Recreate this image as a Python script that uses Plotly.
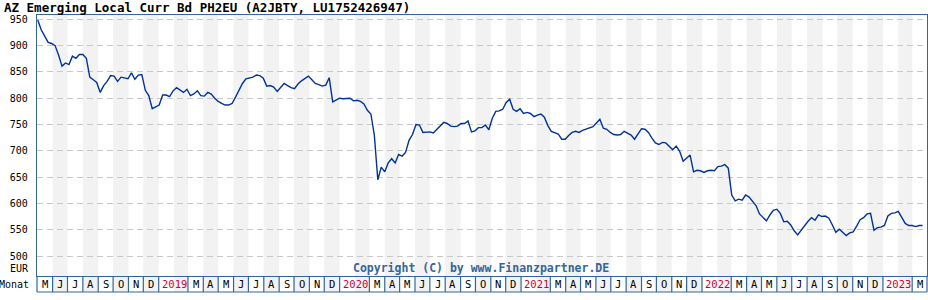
import plotly.graph_objects as go
import pandas as pd

TITLE = "AZ Emerging Local Curr Bd PH2EU (A2JBTY, LU1752426947)"
COPYRIGHT = "Copyright (C) by www.Finanzpartner.DE"
START_DATE = "2018-05-02"   # first weekly observation
STEP = "7D"

# weekly prices (EUR)
prices = [
    948.7, 930, 918, 906, 904, 900, 882, 861, 867, 864,
    880, 876, 883, 883, 876, 840, 835, 830, 811, 824,
    832, 843, 842, 832, 840, 838, 837, 848, 836, 844,
    845, 815, 805, 780, 784, 787, 806, 806, 803, 814,
    820, 816, 811, 817, 805, 808, 814, 805, 804, 811,
    808, 800, 794, 790, 787, 787, 790, 802, 815, 828,
    837, 839, 840, 844, 843, 838, 823, 824, 821, 813,
    820, 828, 824, 820, 818, 827, 833, 838, 842, 835,
    828, 826, 823, 825, 839, 793, 797, 800, 799, 800,
    800, 795, 796, 794, 789, 777, 770, 730, 645, 669,
    660, 677, 685, 677, 693, 690, 697, 720, 731, 750,
    749, 735, 736, 736, 734, 741, 747, 754, 752, 747,
    746, 747, 752, 752, 757, 736, 738, 744, 744, 749,
    740, 762, 775, 776, 779, 792, 798, 779, 775, 780,
    771, 773, 771, 765, 768, 770, 764, 748, 737, 734,
    732, 722, 722, 729, 735, 737, 735, 739, 741, 744,
    746, 753, 760, 743, 741, 735, 731, 730, 731, 737,
    734, 730, 722, 731, 742, 741, 735, 724, 715, 712,
    716, 715, 708, 702, 709, 699, 680, 687, 692, 660,
    663, 662, 659, 662, 663, 662, 670, 671, 674, 667,
    616, 605, 608, 606, 616, 612, 604, 596, 580, 573,
    567, 578, 587, 589, 581, 565, 566, 559, 548, 540,
    549, 558, 566, 573, 568, 578, 575, 576, 572, 559,
    545, 551, 544, 539, 544, 546, 557, 569, 573, 580,
    581, 549, 554, 555, 558, 576, 581, 582, 585, 574,
    562, 558, 558, 556, 558, 558,
]

y_ticks = [500, 550, 600, 650, 700, 750, 800, 850, 900, 950]
month_letters = ["J", "F", "M", "A", "M", "J", "J", "A", "S", "O", "N", "D"]
first_month = "2018-05-01"
last_month = "2023-03-01"
x_range = ["2018-04-30 12:00", "2023-03-30 22:00"]
y_range = [462, 958.2]

FONT = "DejaVu Sans Mono"
FRAME = "#336699"
LINE = "#003399"
BAND = "#f2f2f2"
YEAR_COLOR = "#cc0033"

W, H = 928, 300
ML, MR, MT, MB = 37, 1, 15, 24
plot_h = H - MT - MB
plot_w = W - ML - MR
ROW_H = 16 / plot_h

dates = pd.date_range(START_DATE, periods=len(prices), freq=STEP)
months = pd.date_range(first_month, last_month, freq="MS")
month_ends = list(months[1:]) + [months[-1] + pd.offsets.MonthBegin(1)]

fig = go.Figure()
fig.add_trace(go.Scatter(
    x=dates, y=prices, mode="lines",
    line=dict(color=LINE, width=1.4),
    hoverinfo="skip", showlegend=False,
))

shapes = []
annotations = []

# alternating month bands (plot area + month row)
for m0, m1 in zip(months, month_ends):
    if m0.month % 2 == 0:
        shapes.append(dict(type="rect", xref="x", yref="paper",
                           x0=m0, x1=m1, y0=-ROW_H, y1=1,
                           fillcolor=BAND, line=dict(width=0), layer="below"))

# month row frame
shapes.append(dict(type="line", xref="paper", yref="paper", x0=0, x1=1,
                   y0=-ROW_H, y1=-ROW_H, line=dict(color=FRAME, width=1.2)))
shapes.append(dict(type="line", xref="paper", yref="paper", x0=0, x1=0,
                   y0=-ROW_H, y1=0, line=dict(color=FRAME, width=1.2)))
shapes.append(dict(type="line", xref="paper", yref="paper", x0=1, x1=1,
                   y0=-ROW_H, y1=0, line=dict(color=FRAME, width=1.2)))
for m0 in months[1:]:
    if m0.month != 2:
        shapes.append(dict(type="line", xref="x", yref="paper", x0=m0, x1=m0,
                           y0=-ROW_H, y1=0, line=dict(color=FRAME, width=1.2)))

# month / year labels
label_y = -ROW_H / 2
for m0, m1 in zip(months, month_ends):
    if m0.month == 2:
        continue
    if m0.month == 1:
        xc = m0 + pd.Timedelta(days=31)
        annotations.append(dict(x=xc, y=label_y, xref="x", yref="paper",
                                text=str(m0.year), showarrow=False,
                                xanchor="center", yanchor="middle",
                                font=dict(family=FONT, size=10.5, color=YEAR_COLOR)))
    else:
        xc = m0 + (m1 - m0) / 2
        annotations.append(dict(x=xc, y=label_y, xref="x", yref="paper",
                                text=month_letters[m0.month - 1], showarrow=False,
                                xanchor="center", yanchor="middle",
                                font=dict(family=FONT, size=10.5, color="#000000")))

px_x = lambda px: (px - ML) / plot_w
px_y = lambda py: (H - MB - py) / plot_h

annotations.append(dict(x=px_x(2), y=px_y(8), xref="paper", yref="paper",
                        text="<b>" + TITLE + "</b>", showarrow=False,
                        xanchor="left", yanchor="middle",
                        font=dict(family=FONT, size=12.5, color="#000000")))
annotations.append(dict(x=px_x(31), y=px_y(268), xref="paper", yref="paper",
                        text="EUR", showarrow=False, xanchor="right", yanchor="middle",
                        font=dict(family=FONT, size=10, color="#000000")))
annotations.append(dict(x=px_x(31), y=px_y(284), xref="paper", yref="paper",
                        text="Monat", showarrow=False, xanchor="right", yanchor="middle",
                        font=dict(family=FONT, size=10, color="#000000")))
annotations.append(dict(x=px_x(481), y=px_y(268), xref="paper", yref="paper",
                        text="<b>" + COPYRIGHT + "</b>", showarrow=False,
                        xanchor="center", yanchor="middle",
                        font=dict(family=FONT, size=11.5, color=FRAME)))

fig.update_layout(
    width=W, height=H,
    margin=dict(l=ML, r=MR, t=MT, b=MB, pad=0),
    paper_bgcolor="white", plot_bgcolor="white",
    shapes=shapes, annotations=annotations,
    showlegend=False,
    xaxis=dict(range=x_range, type="date", showgrid=False, zeroline=False,
               showticklabels=False, ticks="", showline=True, mirror=True,
               linecolor=FRAME, linewidth=1.2, fixedrange=True),
    yaxis=dict(range=y_range, tickvals=y_ticks, ticktext=[str(v) for v in y_ticks],
               showgrid=True, gridcolor="#c8c8c8", gridwidth=1, griddash="6px,4px",
               zeroline=False, showline=True, mirror=True, linecolor=FRAME,
               linewidth=1.2, ticks="", ticklabelstandoff=6,
               tickfont=dict(family=FONT, size=10, color="#000000"), fixedrange=True),
)

fig.write_html("out.html")
